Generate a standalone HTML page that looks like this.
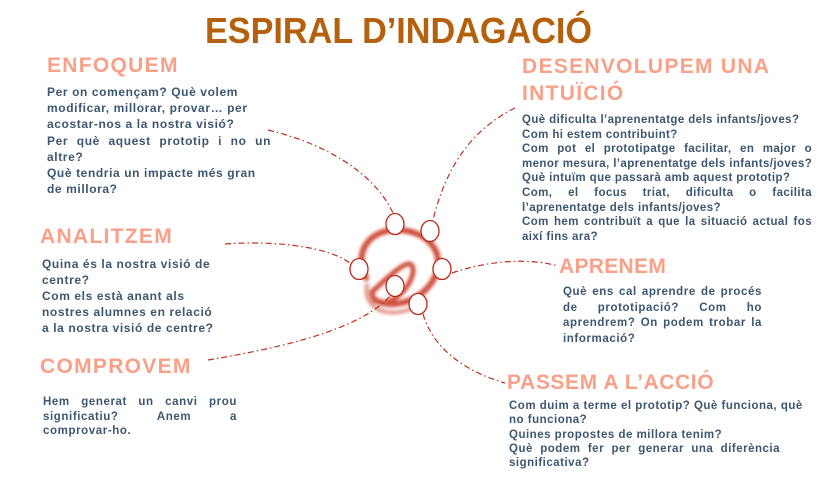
<!DOCTYPE html>
<html><head><meta charset="utf-8"><style>
body{margin:0;width:826px;height:481px;background:#fff;position:relative;overflow:hidden;font-family:"Liberation Sans",sans-serif}
.t{position:absolute;left:205px;top:13px;font-size:36px;line-height:36px;font-weight:bold;color:#b5600c;white-space:nowrap;transform:scaleX(0.95);transform-origin:0 0}
.h{position:absolute;font-size:21px;line-height:21px;font-weight:bold;color:#f9a088;white-space:nowrap;letter-spacing:1.3px}
.b{position:absolute;font-size:12px;letter-spacing:0.6px;font-weight:bold;color:#3d5770}
.b div{white-space:nowrap}
.j{text-align:justify;text-align-last:justify}
</style></head><body>
<div class="t">ESPIRAL D’INDAGACIÓ</div>
<svg width="826" height="481" style="position:absolute;left:0;top:0">
<defs><filter id="bl"><feGaussianBlur stdDeviation="1.6"/></filter></defs>
<g fill="none" stroke="#c8321e" stroke-linecap="round" filter="url(#bl)" opacity="0.85">
<path d="M366,278 C352,250 372,228 400,230 C432,232 448,258 432,282 C420,300 395,310 375,300" stroke-width="6"/>
<path d="M372,292 C390,275 405,262 410,264 C418,268 410,290 392,300 C380,306 372,300 372,292" stroke-width="5"/>
<path d="M367,285 C364,305 380,315 400,312 C412,310 420,304 422,298" stroke-width="4" opacity="0.6"/>
</g>
<g fill="none" stroke="#c0301c" stroke-width="1.2" stroke-dasharray="6,3,1.5,3">
<path d="M268,130 C330,145 375,175 393,213"/>
<path d="M515,108 C470,130 445,170 433,220"/>
<path d="M225,244 C280,240 330,248 350,263"/>
<path d="M452,273 C490,260 530,258 558,266"/>
<path d="M208,360 C280,348 360,330 390,296"/>
<path d="M423,314 C432,345 460,370 505,383"/>
</g>
<g fill="#fff" stroke="#b82818" stroke-width="1.3">
<ellipse cx="395" cy="224" rx="9" ry="10.5"/>
<ellipse cx="430" cy="231" rx="9" ry="10.5"/>
<ellipse cx="359" cy="269" rx="9" ry="10.5"/>
<ellipse cx="442" cy="269" rx="9" ry="10.5"/>
<ellipse cx="395" cy="286" rx="9" ry="10.5"/>
<ellipse cx="418" cy="304" rx="9" ry="10.5"/>
</g>
</svg>

<div class="h" style="left:47px;top:55px">ENFOQUEM</div>
<div class="b" style="left:47px;top:84px;width:224px;line-height:16.2px">
<div>Per on començam? Què volem</div>
<div>modificar, millorar, provar… per</div>
<div>acostar-nos a la nostra visió?</div>
<div class="j">Per què aquest prototip i no un</div>
<div>altre?</div>
<div>Què tendria un impacte més gran</div>
<div>de millora?</div>
</div>

<div class="h" style="left:522px;top:53px;line-height:27px">DESENVOLUPEM UNA<br>INTUÏCIÓ</div>
<div class="b" style="left:522px;top:113px;width:290px;font-size:11.5px;line-height:14.6px;letter-spacing:0.4px">
<div>Què dificulta l’aprenentatge dels infants/joves?</div>
<div>Com hi estem contribuint?</div>
<div class="j">Com pot el prototipatge facilitar, en major o</div>
<div>menor mesura, l’aprenentatge dels infants/joves?</div>
<div>Què intuïm que passarà amb aquest prototip?</div>
<div class="j">Com, el focus triat, dificulta o facilita</div>
<div>l’aprenentatge dels infants/joves?</div>
<div class="j">Com hem contribuït a que la situació actual fos</div>
<div>així fins ara?</div>
</div>

<div class="h" style="left:40px;top:226px">ANALITZEM</div>
<div class="b" style="left:42px;top:256px;width:175px;line-height:16px">
<div>Quina és la nostra visió de</div>
<div>centre?</div>
<div>Com els està anant als</div>
<div>nostres alumnes en relació</div>
<div>a la nostra visió de centre?</div>
</div>

<div class="h" style="left:559px;top:256px;letter-spacing:0.3px">APRENEM</div>
<div class="b" style="left:563px;top:285px;width:199px;font-size:11.5px;line-height:15.7px">
<div class="j">Què ens cal aprendre de procés</div>
<div class="j">de prototipació? Com ho</div>
<div class="j">aprendrem? On podem trobar la</div>
<div>informació?</div>
</div>

<div class="h" style="left:40px;top:356px">COMPROVEM</div>
<div class="b" style="left:43px;top:395px;width:194px;font-size:11.5px;line-height:14.5px">
<div class="j">Hem generat un canvi prou</div>
<div class="j">significatiu? Anem a</div>
<div>comprovar-ho.</div>
</div>

<div class="h" style="left:507px;top:372px;letter-spacing:0.6px">PASSEM A L’ACCIÓ</div>
<div class="b" style="left:509px;top:399px;width:271px;font-size:11.5px;line-height:14.3px;letter-spacing:0.5px">
<div class="j">Com duim a terme el prototip? Què funciona, què</div>
<div>no funciona?</div>
<div>Quines propostes de millora tenim?</div>
<div class="j">Què podem fer per generar una diferència</div>
<div>significativa?</div>
</div>
</body></html>
